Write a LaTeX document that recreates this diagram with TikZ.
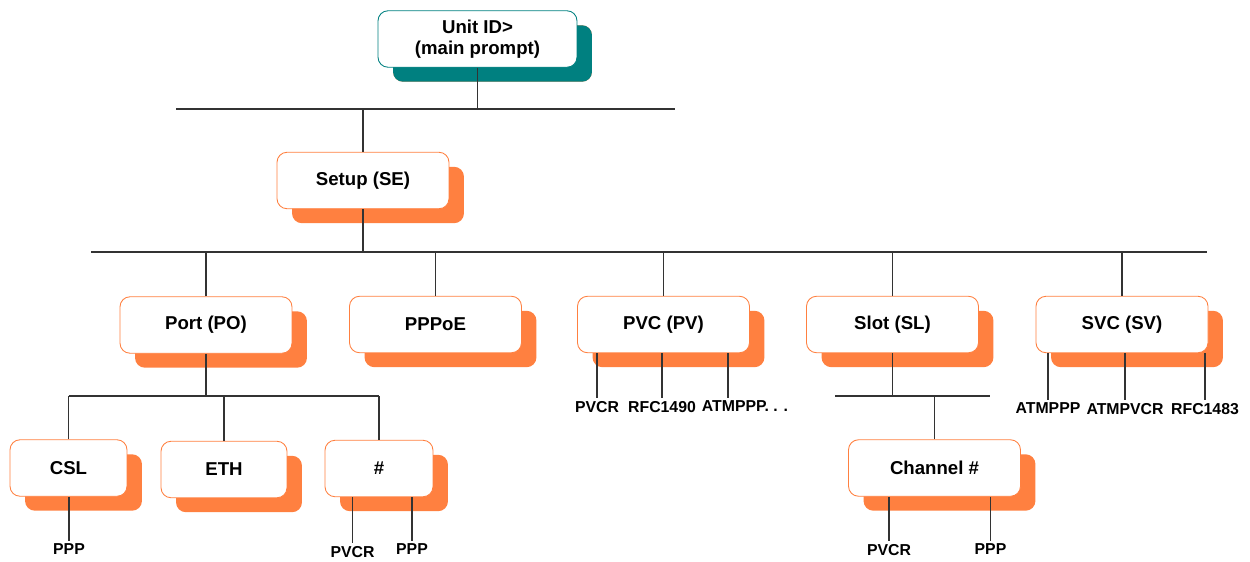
\documentclass[tikz,border=0pt]{standalone}
\usepackage{fontspec}
\setmainfont{Liberation Sans}
\usepackage{xcolor}
\usepackage{tikz}
\usetikzlibrary{shadows}

\definecolor{menuorange}{RGB}{255,128,64}
\definecolor{menuteal}{RGB}{0,128,128}

\begin{document}
\begin{tikzpicture}[
  x=0.02cm, y=-0.02cm,
  font=\fontsize{10.6}{12.2}\selectfont\bfseries,
  box/.style={draw=menuorange, fill=white, rounded corners=0.2cm,
    line width=0.5pt, align=center, inner sep=2pt,
    minimum width=3.44cm, minimum height=1.13cm,
    drop shadow={shadow xshift=0.3cm, shadow yshift=-0.29cm,
      fill=menuorange, opacity=1}},
  topbox/.style={box, draw=menuteal, minimum width=3.98cm,
    drop shadow={shadow xshift=0.3cm, shadow yshift=-0.29cm,
      fill=menuteal, opacity=1}},
  leaf/.style={font=\fontsize{9}{10}\selectfont\bfseries,
    inner sep=1.5pt, anchor=north},
  link/.style={draw=black!80, line width=0.6pt}
]
\useasboundingbox (0,0) rectangle (1250,561);

% main prompt and setup
\node[topbox] (unit) at (477.5,39) {Unit ID>\\(main prompt)};
\node[box] (setup) at (363,180.5) {Setup (SE)};

% setup menu
\node[box] (port) at (206,325) {Port (PO)};
\node[box] (pppoe) at (435.5,324.5) {PPPoE};
\node[box] (pvc) at (663.5,324.5) {PVC (PV)};
\node[box] (slot) at (892.5,324.5) {Slot (SL)};
\node[box] (svc) at (1122,324.5) {SVC (SV)};

% port and slot submenus
\node[box, minimum width=2.34cm] (csl) at (68.5,468) {CSL};
\node[box, minimum width=2.52cm] (eth) at (224,469.5) {ETH};
\node[box, minimum width=2.16cm] (hash) at (379,468.5) {\#};
\node[box] (channel) at (934.5,468) {Channel \#};

% leaves
\node[leaf] (pvcPVCR) at (597,398) {PVCR};
\node[leaf] (pvcRFC) at (662,398) {RFC1490};
\node[leaf, anchor=north west] (pvcATM) at (699,398) {ATMPPP. . .};
\node[leaf] (svcATMPPP) at (1048,400) {ATMPPP};
\node[leaf] (svcATMPVCR) at (1125,400) {ATMPVCR};
\node[leaf] (svcRFC) at (1205,400) {RFC1483};
\node[leaf] (cslPPP) at (69,541) {PPP};
\node[leaf] (hashPVCR) at (352.5,543) {PVCR};
\node[leaf] (hashPPP) at (412,541) {PPP};
\node[leaf] (chanPVCR) at (889,541) {PVCR};
\node[leaf] (chanPPP) at (990.5,541) {PPP};
\coordinate (pvcATMtop) at ([xshift=0.58cm]pvcATM.north west);

% bus lines
\coordinate (busA-l) at (176,109);
\coordinate (busA-r) at (675,109);
\coordinate (busB-l) at (91,252);
\coordinate (busB-r) at (1207,252);
\coordinate (busC-l) at (68.5,396);
\coordinate (busC-r) at (379,396);
\coordinate (busD-l) at (835,396);
\coordinate (busD-r) at (990,396);

\draw[link] (busA-l) -- (busA-r);
\draw[link] (busB-l) -- (busB-r);
\draw[link] (busC-l) -- (busC-r);
\draw[link] (busD-l) -- (busD-r);

\draw[link] (unit.south) -- (unit.south |- busA-l);
\draw[link] (setup.north) -- (setup.north |- busA-l);
\draw[link] (setup.south) -- (setup.south |- busB-l);
\foreach \n in {port,pppoe,pvc,slot,svc}
  \draw[link] (\n.north) -- (\n.north |- busB-l);
\draw[link] (port.south) -- (port.south |- busC-l);
\foreach \n in {csl,eth,hash}
  \draw[link] (\n.north) -- (\n.north |- busC-l);
\draw[link] (slot.south) -- (slot.south |- busD-l);
\draw[link] (channel.north) -- (channel.north |- busD-l);

\foreach \n/\l in {pvc/pvcPVCR, pvc/pvcRFC, svc/svcATMPPP, svc/svcATMPVCR,
    svc/svcRFC, csl/cslPPP, hash/hashPVCR, hash/hashPPP,
    channel/chanPVCR, channel/chanPPP}
  \draw[link] (\n.south -| \l.north) -- (\l.north);
\draw[link] (pvc.south -| pvcATMtop) -- (pvcATMtop);
\end{tikzpicture}
\end{document}
